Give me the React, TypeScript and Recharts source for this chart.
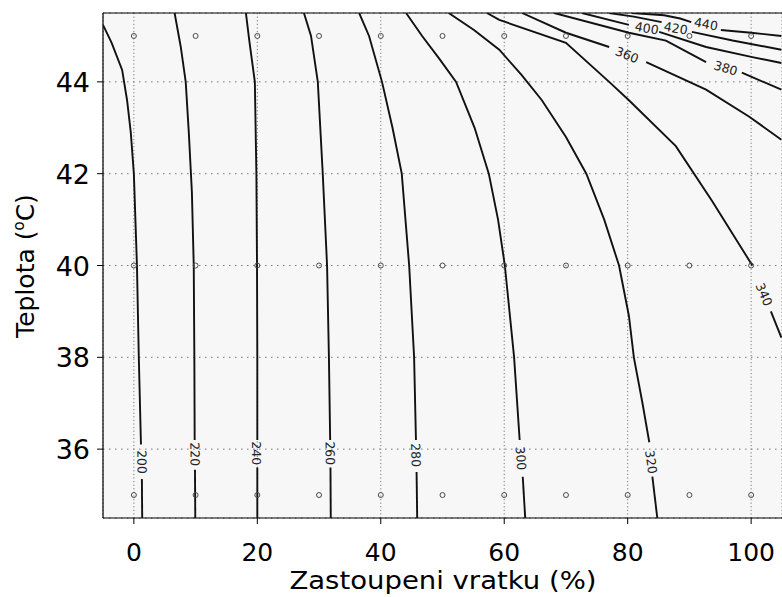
import React from 'react';
import { ScatterChart, Scatter, XAxis, YAxis, CartesianGrid } from 'recharts';

type Pt = [number, number] | null;

const xTicks = [0, 20, 40, 60, 80, 100];
const yTicks = [36, 38, 40, 42, 44];
const sampleX = [0, 10, 20, 30, 40, 50, 60, 70, 80, 90, 100];
const sampleY = [35, 40, 45];

const contour200: Pt[] = [[-5, 45.24], [-3.6, 44.85], [-1.9, 44.26], [-1.1, 43.6], [-0.5, 42.9], [0, 42], [0.5, 40], [0.8, 38], [1.15, 36.1], null, [1.3, 35.35], [1.35, 34.5]];
const contour220: Pt[] = [[6.6, 45.5], [7.6, 44.76], [8.4, 44.0], [8.9, 42.9], [9.4, 41.6], [9.7, 40], [9.8, 38], [9.85, 36.2], null, [9.9, 35.55], [9.95, 34.5]];
const contour240: Pt[] = [[18.15, 45.5], [18.7, 44.9], [19.6, 44], [19.85, 42], [19.95, 40], [20, 38], [20, 36.2], null, [20, 35.6], [20, 34.5]];
const contour260: Pt[] = [[27.55, 45.5], [28.7, 45], [29.8, 44], [30.6, 42], [31.3, 40], [31.6, 38], [31.8, 36.2], null, [31.85, 35.6], [31.9, 34.5]];
const contour280: Pt[] = [[36.5, 45.5], [38.1, 45], [40.2, 44], [41.9, 43], [43.4, 42], [44.6, 40], [45.4, 38], [45.7, 36.2], null, [45.8, 35.5], [45.9, 34.5]];
const contour300: Pt[] = [[44.1, 45.5], [46.7, 45], [49.5, 44.5], [52.2, 44], [55.2, 43], [57.5, 42], [59.0, 41], [60.1, 40], [61.6, 38], [62.5, 36.2], null, [63.0, 35.4], [63.4, 34.5]];
const contour320: Pt[] = [[51, 45.5], [55.1, 45.13], [59.2, 44.7], [62.8, 44.15], [66.1, 43.6], [70, 42.8], [73.3, 42], [76.2, 41], [78.6, 40], [80.2, 38.9], [81, 38], [82.4, 37], [83.5, 36.15], null, [84, 35.4], [84.8, 34.5]];
const contour340: Pt[] = [[57.2, 45.5], [59.2, 45.35], [70, 44.85], [77, 44], [80.2, 43.6], [87.8, 42.6], [93.7, 41.4], [100.2, 40], null, [103.2, 39.0], [104.9, 38.43]];
const contour360: Pt[] = [[62.9, 45.5], [70, 45.07], [77, 44.76], null, [83, 44.43], [92.7, 43.83], [99.7, 43.24], [104.9, 42.74]];
const contour380: Pt[] = [[68.1, 45.5], [80.2, 45.07], [86.2, 44.9], [92.7, 44.43], null, [98.5, 44.2], [104.9, 43.83]];
const contour400: Pt[] = [[72.6, 45.5], [80.2, 45.24], null, [85.1, 45.09], [92.7, 44.76], [100.2, 44.54], [104.9, 44.41]];
const contour420: Pt[] = [[77, 45.5], [81, 45.42], [85.5, 45.3], null, [90.4, 45.09], [97, 44.9], [104.9, 44.7]];
const contour440: Pt[] = [[80.7, 45.5], [85.9, 45.45], [88.5, 45.38], [90.3, 45.3], null, [95.1, 45.13], [100, 45.07], [104.9, 45.0]];

const labelLevels = [200, 220, 240, 260, 280, 300, 320, 340, 360, 380, 400, 420, 440];
const labelX = [1.3, 9.9, 19.8, 31.8, 45.7, 62.7, 83.8, 102.1, 79.9, 95.9, 83.1, 87.8, 92.7];
const labelY = [35.72, 35.89, 35.91, 35.91, 35.87, 35.8, 35.72, 39.37, 44.59, 44.3, 45.17, 45.17, 45.26];
const labelAngle = [89, 89, 90, 89, 88, 86, 82, 67, 22, 17, 10, 10, 10];

const contours = [contour200, contour220, contour240, contour260, contour280, contour300, contour320, contour340, contour360, contour380, contour400, contour420, contour440];

const splitSegments = (c: Pt[]) => {
  const segs: { x: number; y: number }[][] = [];
  let cur: { x: number; y: number }[] = [];
  c.forEach((p) => {
    if (p === null) {
      if (cur.length) segs.push(cur);
      cur = [];
    } else cur.push({ x: p[0], y: p[1] });
  });
  if (cur.length) segs.push(cur);
  return segs;
};

const segments = contours.flatMap(splitSegments);
const markers = sampleY.flatMap((y) => sampleX.map((x) => ({ x, y })));
const labels = labelLevels.map((v, i) => ({ x: labelX[i], y: labelY[i], text: String(v), angle: labelAngle[i] }));

const FONT = 'DejaVu Sans';

const NoShape = () => <g />;

const MarkerShape = (p: any) => (
  <circle cx={p.cx} cy={p.cy} r={2.5} fill="none" stroke="#4a4a4a" strokeWidth={1} />
);

const LabelShape = (p: any) => (
  <text
    x={p.cx}
    y={p.cy}
    transform={`rotate(${p.payload.angle} ${p.cx} ${p.cy})`}
    textAnchor="middle"
    dominantBaseline="central"
    fontFamily={FONT}
    fontSize={12.5}
    fill="#222"
  >
    {p.payload.text}
  </text>
);

const XTick = (p: any) => (
  <text x={p.x} y={p.y + 35} textAnchor="middle" fontFamily={FONT} fontSize={25} fill="#000">
    {p.payload.value}
  </text>
);

const YTick = (p: any) => (
  <text x={p.x - 5} y={p.y + 10} textAnchor="end" fontFamily={FONT} fontSize={27} fill="#000">
    {p.payload.value}
  </text>
);

const XTitle = () => (
  <text
    x={0}
    y={0}
    transform="translate(443 589) scale(1.1 1)"
    textAnchor="middle"
    fontFamily={FONT}
    fontSize={25}
    fill="#000"
  >
    Zastoupeni vratku (%)
  </text>
);

const YTitle = () => (
  <text
    x={0}
    y={0}
    transform="translate(34 266) rotate(-90)"
    textAnchor="middle"
    fontFamily={FONT}
    fontSize={25}
    fill="#000"
  >
    Teplota (
    <tspan fontSize={15} dy={-10}>o</tspan>
    <tspan dy={10}>C)</tspan>
  </text>
);

export default function App() {
  return (
    <div style={{ position: 'absolute', left: 0, top: 0, width: 782, height: 597, overflow: 'hidden', background: '#fff' }}>
      <ScatterChart width={782} height={597} margin={{ top: 0, right: 0, bottom: 0, left: 0 }}>
        <CartesianGrid horizontal={false} fill="#f7f7f7" stroke="#777" strokeDasharray="1.2 2.4" />
        <CartesianGrid vertical={false} stroke="#777" strokeDasharray="1.5 4.5" />
        <XAxis
          type="number"
          dataKey="x"
          domain={[-5, 105]}
          allowDataOverflow
          ticks={xTicks}
          height={79}
          tickSize={6}
          axisLine={{ stroke: '#000', strokeWidth: 1.2 }}
          tickLine={{ stroke: '#000' }}
          tick={XTick}
          label={XTitle}
        />
        <XAxis
          xAxisId="top"
          orientation="top"
          type="number"
          domain={[-5, 105]}
          allowDataOverflow
          ticks={xTicks}
          height={13}
          tickSize={6}
          axisLine={{ stroke: '#000', strokeWidth: 1.2 }}
          tickLine={{ stroke: '#000' }}
          tick={false}
        />
        <YAxis
          type="number"
          dataKey="y"
          domain={[34.5, 45.5]}
          allowDataOverflow
          ticks={yTicks}
          width={103}
          tickSize={6}
          axisLine={{ stroke: '#000', strokeWidth: 1.2 }}
          tickLine={{ stroke: '#000' }}
          tick={YTick}
          label={YTitle}
        />
        {segments.map((seg, i) => (
          <Scatter
            key={'c' + i}
            data={seg}
            line={{ stroke: '#111', strokeWidth: 1.9 }}
            shape={NoShape}
            isAnimationActive={false}
            legendType="none"
          />
        ))}
        <Scatter data={markers} shape={MarkerShape} isAnimationActive={false} legendType="none" />
        <Scatter data={labels} shape={LabelShape} isAnimationActive={false} legendType="none" />
      </ScatterChart>
    </div>
  );
}
